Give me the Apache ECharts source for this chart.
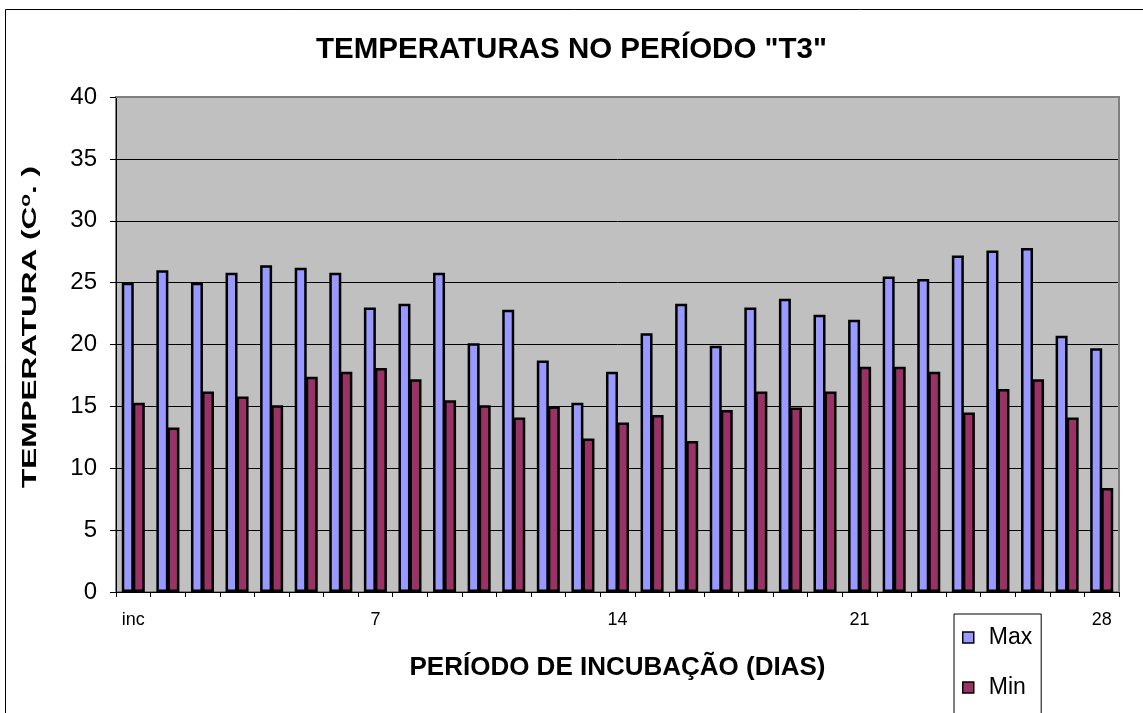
<!DOCTYPE html>
<html>
<head>
<meta charset="utf-8">
<title>Temperaturas no período T3</title>
<script src="https://cdn.jsdelivr.net/npm/echarts@6/dist/echarts.min.js"></script>
<style>
  html, body { margin: 0; padding: 0; background: #ffffff; }
  #chart { width: 1143px; height: 713px; }
</style>
</head>
<body>
<div id="chart"></div>
<script>
// Incubation days: "inc" then days 1..28
const days = ['inc', '1', '2', '3', '4', '5', '6', '7', '8', '9', '10', '11', '12', '13', '14',
  '15', '16', '17', '18', '19', '20', '21', '22', '23', '24', '25', '26', '27', '28'];

// Daily maximum temperature (°C)
const maxTemp = [25.0, 26.0, 25.0, 25.8, 26.4, 26.2, 25.8, 23.0, 23.3, 25.8, 20.1, 22.8, 18.7, 15.3, 17.8,
  20.9, 23.3, 19.9, 23.0, 23.7, 22.4, 22.0, 25.5, 25.3, 27.2, 27.6, 27.8, 20.7, 19.7];

// Daily minimum temperature (°C)
const minTemp = [15.3, 13.3, 16.2, 15.8, 15.1, 17.4, 17.8, 18.1, 17.2, 15.5, 15.1, 14.1, 15.0, 12.4, 13.7,
  14.3, 12.2, 14.7, 16.2, 14.9, 16.2, 18.2, 18.2, 17.8, 14.5, 16.4, 17.2, 14.1, 8.4];

// Value axis ticks
const yMin = 0, yMax = 40, yStep = 5;

const FONT = '"Liberation Sans", Arial, sans-serif';

const chart = echarts.init(document.getElementById('chart'), null, { renderer: 'canvas' });

const option = {
  backgroundColor: '#ffffff',
  animation: false,
  title: {
    text: 'TEMPERATURAS NO PERÍODO "T3"',
    left: 'center',
    top: 30,
    textStyle: { fontFamily: FONT, fontSize: 29.5, fontWeight: 'bold', color: '#000000' }
  },
  grid: {
    left: 116, right: 24, top: 97, bottom: 121,
    show: true,
    backgroundColor: '#C0C0C0',
    borderColor: '#808080',
    borderWidth: 2,
    containLabel: false
  },
  legend: {
    orient: 'vertical',
    left: 954,
    top: 614,
    width: 70,
    height: 160,
    padding: [12, 9, 60, 8],
    itemWidth: 11,
    itemHeight: 11,
    itemGap: 27,
    icon: 'rect',
    backgroundColor: '#ffffff',
    borderColor: '#000000',
    borderWidth: 1,
    itemStyle: { borderColor: '#000000', borderWidth: 1.5 },
    textStyle: { fontFamily: FONT, fontSize: 23, color: '#000000', padding: [0, 0, 0, 10] },
    data: ['Max', 'Min']
  },
  xAxis: {
    type: 'category',
    data: days,
    boundaryGap: true,
    name: 'PERÍODO DE INCUBAÇÃO (DIAS)',
    nameLocation: 'middle',
    nameGap: 63,
    nameTextStyle: { fontFamily: FONT, fontSize: 26, fontWeight: 'bold', color: '#000000' },
    axisLine: { lineStyle: { color: '#000000', width: 1 } },
    axisTick: { show: true, interval: 0, length: 5, lineStyle: { color: '#000000' } },
    axisLabel: { interval: 6, margin: 19, fontFamily: FONT, fontSize: 18, color: '#000000' },
    splitLine: { show: false }
  },
  yAxis: {
    type: 'value',
    min: yMin,
    max: yMax,
    interval: yStep,
    axisLine: { show: true, lineStyle: { color: '#000000', width: 1 } },
    axisTick: { show: true, length: 6, lineStyle: { color: '#000000' } },
    axisLabel: { margin: 19, fontFamily: FONT, fontSize: 24, color: '#000000' },
    splitLine: { show: true, lineStyle: { color: '#000000', width: 1 } }
  },
  series: [
    {
      name: 'Max',
      type: 'bar',
      data: maxTemp,
      barWidth: 12,
      barGap: '-8%',
      itemStyle: { color: '#9999FF', borderColor: '#000000', borderWidth: 2.5 }
    },
    {
      name: 'Min',
      type: 'bar',
      data: minTemp,
      barWidth: 12,
      itemStyle: { color: '#993366', borderColor: '#000000', borderWidth: 2.5 }
    }
  ],
  graphic: [
    // outer chart frame
    {
      type: 'rect',
      shape: { x: 5.5, y: 9.5, width: 1300, height: 900 },
      style: { fill: null, stroke: '#000000', lineWidth: 1 },
      silent: true,
      z: 0
    },
    // plot area border on top and right
    {
      type: 'polyline',
      shape: { points: [[116, 97], [1119, 97], [1119, 592]] },
      style: { fill: null, stroke: '#808080', lineWidth: 2 },
      silent: true,
      z: 50
    },
    // vertical axis title with superscript degree mark
    {
      type: 'text',
      x: 30,
      y: 327,
      rotation: Math.PI / 2,
      scaleX: 1.5,
      style: {
        text: '{a|TEMPERATURA (C}{s|o}{a|. )}',
        align: 'center',
        verticalAlign: 'middle',
        fill: '#000000',
        rich: {
          a: { fontFamily: FONT, fontSize: 21, fontWeight: 'bold', fill: '#000000', verticalAlign: 'bottom' },
          s: { fontFamily: FONT, fontSize: 14, fontWeight: 'bold', fill: '#000000', verticalAlign: 'top' }
        }
      },
      silent: true,
      z: 50
    }
  ]
};

chart.setOption(option);
</script>
</body>
</html>
